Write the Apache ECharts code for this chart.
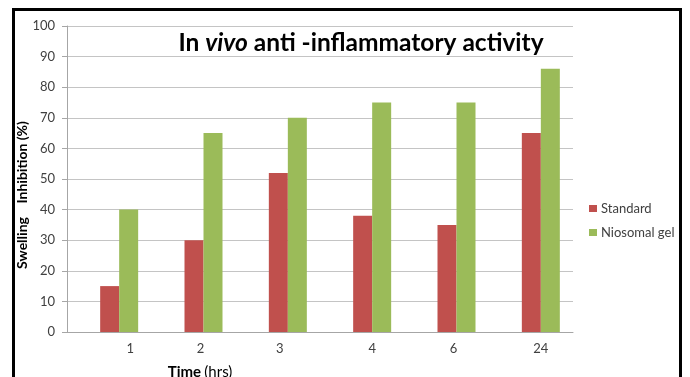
<!DOCTYPE html>
<html>
<head>
<meta charset="utf-8">
<script src="https://cdn.jsdelivr.net/npm/echarts@6/dist/echarts.min.js"></script>
<style>
  html, body { margin: 0; padding: 0; background: #ffffff; }
  #chart { width: 690px; height: 377px; }
</style>
</head>
<body>
<div id="chart"></div>
<script>
// Time points (hrs)
const categories = ['1', '2', '3', '4', '6', '24'];
// Swelling inhibition (%)
const standard = [15, 30, 52, 38, 35, 65];
const niosomalGel = [40, 65, 70, 75, 75, 86];
const seriesNames = ['Standard', 'Niosomal gel'];
const yTicks = { min: 0, max: 100, interval: 10 };

// small horizontal nudges of the time labels (px)
const labelShift = [11, -3, -8, 0, -3, 0];

const FONT = 'Lato, "Open Sans", sans-serif';
const chart = echarts.init(document.getElementById('chart'), null, { renderer: 'canvas' });

const richLabels = {};
labelShift.forEach((s, i) => {
  richLabels['p' + i] = {
    fontFamily: FONT, fontSize: 13, color: '#404040',
    padding: s >= 0 ? [0, 0, 0, 2 * s] : [0, -2 * s, 0, 0]
  };
});

chart.setOption({
  animation: false,
  backgroundColor: '#ffffff',
  grid: [
    { left: 67, right: 117, top: 26, bottom: 45 },
    { left: 77, right: 107, top: 26, bottom: 45 }
  ],
  xAxis: [
    {
      type: 'category', gridIndex: 0, data: categories,
      axisLine: { show: true, lineStyle: { color: '#a6a6a6', width: 1 } },
      axisTick: { show: false }, axisLabel: { show: false }
    },
    {
      type: 'category', gridIndex: 1, data: categories,
      axisLine: { show: false }, axisTick: { show: false },
      axisLabel: {
        margin: 10,
        formatter: (v, i) => '{p' + i + '|' + v + '}',
        rich: richLabels
      }
    }
  ],
  yAxis: [
    {
      type: 'value', gridIndex: 0, min: yTicks.min, max: yTicks.max, interval: yTicks.interval,
      axisLine: { show: true, lineStyle: { color: '#a6a6a6', width: 1 } },
      axisTick: { show: true, length: 5, lineStyle: { color: '#a6a6a6' } },
      axisLabel: { margin: 12, fontFamily: FONT, fontSize: 13, color: '#404040' },
      splitLine: { show: true, lineStyle: { color: '#c4c4c4', width: 1 } }
    },
    {
      type: 'value', gridIndex: 1, min: yTicks.min, max: yTicks.max, interval: yTicks.interval,
      show: false, splitLine: { show: false }
    }
  ],
  legend: {
    orient: 'vertical', left: 584, top: 196,
    itemWidth: 8, itemHeight: 7, itemGap: 9,
    icon: 'rect',
    textStyle: { fontFamily: FONT, fontSize: 13, color: '#404040', lineHeight: 15, padding: [0, 0, 0, -1] },
    data: seriesNames
  },
  series: [
    {
      name: seriesNames[0], type: 'bar', xAxisIndex: 1, yAxisIndex: 1,
      data: standard, barWidth: 19, barGap: '0%',
      itemStyle: { color: '#c0504d' }
    },
    {
      name: seriesNames[1], type: 'bar', xAxisIndex: 1, yAxisIndex: 1,
      data: niosomalGel, barWidth: 19, barGap: '0%',
      itemStyle: { color: '#9bbb59' }
    }
  ],
  graphic: [
    {
      type: 'rect', z: 100,
      shape: { x: 13.5, y: 9.5, width: 667, height: 390 },
      style: { fill: 'none', stroke: '#000000', lineWidth: 3 }
    },
    {
      type: 'text', x: 361, y: 43, z: 50,
      style: {
        text: '{a|In }{b|vivo}{a| anti -inflammatory activity}',
        align: 'center', verticalAlign: 'middle',
        rich: {
          a: { fontFamily: FONT, fontSize: 24.5, fontWeight: 'bold', color: '#000000' },
          b: { fontFamily: FONT, fontSize: 24.5, fontWeight: 'bold', fontStyle: 'italic', color: '#000000' }
        }
      }
    },
    {
      type: 'text', x: 22, y: 195, rotation: Math.PI / 2, z: 50,
      style: {
        text: 'Swelling    Inhibition (%)',
        align: 'center', verticalAlign: 'middle',
        fontFamily: FONT, fontSize: 14, fontWeight: 'bold', fill: '#000000'
      }
    },
    {
      type: 'text', x: 200, y: 372, z: 50,
      style: {
        text: '{t|Time} {h|(hrs)}',
        align: 'center', verticalAlign: 'middle',
        rich: {
          t: { fontFamily: FONT, fontSize: 15, fontWeight: 'bold', color: '#000000' },
          h: { fontFamily: FONT, fontSize: 15, color: '#404040' }
        }
      }
    }
  ]
});
</script>
</body>
</html>
